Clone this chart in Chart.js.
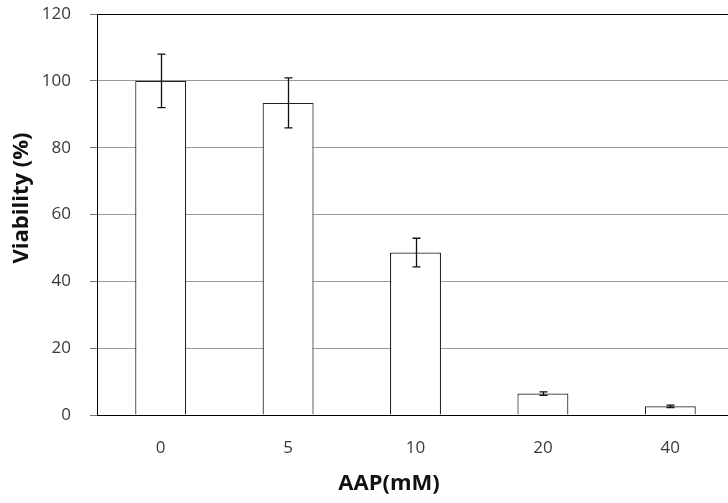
<!DOCTYPE html>
<html>
<head>
<meta charset="utf-8">
<script src="https://cdn.jsdelivr.net/npm/chart.js@4"></script>
<style>
  html, body { margin: 0; padding: 0; background: #fff; overflow: hidden; }
  #wrap { width: 735px; height: 503px; }
</style>
</head>
<body>
<div id="wrap"><canvas id="c" width="735" height="503"></canvas></div>
<script>
// ---- data ----
const categories = ['0', '5', '10', '20', '40'];
const viability = [100, 93.4, 48.6, 6.4, 2.6];
const viabilityErr = [8.0, 7.5, 4.3, 0.5, 0.35];
const xTitle = 'AAP(mM)';
const yTitle = 'Viability (%)';
const yMin = 0, yMax = 120, yStep = 20;

const errorBars = {
  id: 'errorBars',
  afterDatasetsDraw(chart) {
    const ctx = chart.ctx;
    const meta = chart.getDatasetMeta(0);
    const ys = chart.scales.y;
    ctx.save();
    ctx.strokeStyle = '#111';
    ctx.lineWidth = 1.3;
    meta.data.forEach((bar, i) => {
      const v = viability[i], e = viabilityErr[i];
      const x = Math.round(bar.x) + 0.5;
      const yt = ys.getPixelForValue(v + e);
      const yb = ys.getPixelForValue(v - e);
      ctx.beginPath();
      ctx.moveTo(x, yt); ctx.lineTo(x, yb);
      ctx.moveTo(x - 4, yt); ctx.lineTo(x + 4, yt);
      ctx.moveTo(x - 4, yb); ctx.lineTo(x + 4, yb);
      ctx.stroke();
    });
    ctx.restore();
  }
};

const axisTitles = {
  id: 'axisTitles',
  afterDraw(chart) {
    const ctx = chart.ctx;
    ctx.save();
    ctx.font = 'bold 22px "Open Sans"';
    ctx.fillStyle = '#111';
    ctx.textAlign = 'center';
    ctx.textBaseline = 'middle';
    // x-axis title
    ctx.fillText(xTitle, 389, 484);
    // y-axis title
    ctx.translate(22, 198);
    ctx.rotate(-Math.PI / 2);
    ctx.fillText(yTitle, 0, 0);
    ctx.restore();
  }
};

new Chart(document.getElementById('c'), {
  type: 'bar',
  data: {
    labels: categories,
    datasets: [{
      data: viability,
      backgroundColor: '#ffffff',
      borderColor: '#222',
      borderWidth: 1.2,
      barPercentage: 0.4,
      categoryPercentage: 1.0
    }]
  },
  options: {
    responsive: false,
    animation: false,
    layout: { padding: { top: 14, right: 1, bottom: 0, left: 0 } },
    plugins: { legend: { display: false }, tooltip: { enabled: false } },
    scales: {
      x: {
        grid: { display: false, drawTicks: false },
        border: { display: true, color: '#000', width: 1 },
        ticks: { color: '#3a3a3a', font: { family: 'Open Sans', size: 17 }, padding: 23 },
        afterFit(s) { s.height = 88; s.paddingLeft = 0; s.paddingRight = 0; }
      },
      y: {
        min: yMin, max: yMax,
        ticks: { stepSize: yStep, color: '#3a3a3a', font: { family: 'Open Sans', size: 17 }, padding: 19 },
        grid: {
          color: (c) => (c.tick && (c.tick.value === yMax || c.tick.value === yMin)) ? '#000' : '#9a9a9a',
          tickColor: '#777',
          tickLength: 7,
          lineWidth: 1
        },
        border: { display: true, color: '#000', width: 1 },
        afterFit(s) { s.width = 97; s.paddingTop = 0; s.paddingBottom = 0; }
      }
    }
  },
  plugins: [errorBars, axisTitles]
});
</script>
</body>
</html>
